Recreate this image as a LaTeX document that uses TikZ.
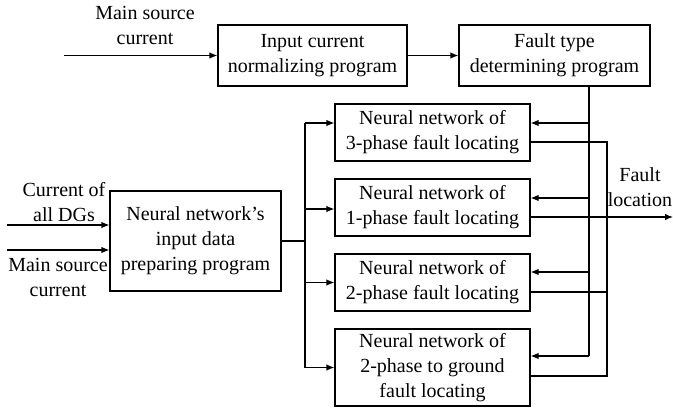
\documentclass[tikz,border=0pt]{standalone}
\usepackage{fontspec}
\setmainfont{Liberation Serif}
\usetikzlibrary{arrows.meta,calc}
\begin{document}
\begin{tikzpicture}[x=1pt,y=-1pt,
  box/.style={draw,line width=1.2pt,align=center,inner sep=0pt,
    font=\fontsize{20}{25}\selectfont},
  lbl/.style={align=center,inner sep=0pt,font=\fontsize{20}{25}\selectfont},
  wire/.style={line width=1.2pt},
  arr/.style={wire,-{Latex[length=8pt,width=6.5pt]}}]
\useasboundingbox (0,0) rectangle (673,410);

% top row
\node[box,minimum width=189pt,minimum height=61pt] (norm) at (312.5,55.5)
  {Input current\\normalizing program};
\node[box,minimum width=191pt,minimum height=61pt] (ft) at (554.5,55.5)
  {Fault type\\determining program};
\node[lbl] (msrc1) at (145,25.5) {Main source\\current};
\coordinate (msrc1in) at (64,55.5);

% data preparation
\node[box,minimum width=171pt,minimum height=100pt] (prep) at (195.5,241)
  {Neural network's\\input data\\preparing program};
\node[lbl] (dglbl) at (64,202) {Current of\\all DGs};
\node[lbl] (msrc2) at (58,277) {Main source\\current};
\coordinate (dgin) at (7,225);
\coordinate (msin) at (7,250);

% neural networks
\node[box,minimum width=195pt,minimum height=57pt] (nn3) at (432.5,132.5)
  {Neural network of\\3-phase fault locating};
\node[box,minimum width=195pt,minimum height=57pt] (nn1) at (432.5,207.5)
  {Neural network of\\1-phase fault locating};
\node[box,minimum width=195pt,minimum height=57pt] (nn2) at (432.5,282.5)
  {Neural network of\\2-phase fault locating};
\node[box,minimum width=195pt,minimum height=77pt] (nn2g) at (432.5,367.5)
  {Neural network of\\2-phase to ground\\fault locating};

\node[lbl] (floc) at (640,187) {Fault\\location};

% bus positions
\coordinate (lbus) at (305,0);
\coordinate (fbus) at (589,0);
\coordinate (obus) at (607,0);
\coordinate (fout) at (673,0);

% input connection points on the left
\coordinate (l3) at ([yshift=9.5pt]nn3.west);
\coordinate (l1) at ([yshift=-1.5pt]nn1.west);
\coordinate (l2) at (nn2.west);
\coordinate (l2g) at (nn2g.west);
% fault type inputs on the right
\coordinate (r3) at ([yshift=9.5pt]nn3.east);
\coordinate (r1) at ([yshift=9.5pt]nn1.east);
\coordinate (r2) at ([yshift=10.5pt]nn2.east);
\coordinate (r2g) at ([yshift=11.5pt]nn2g.east);
% outputs on the right
\coordinate (o3) at ([yshift=-9.5pt]nn3.east);
\coordinate (o1) at ([yshift=-9.5pt]nn1.east);
\coordinate (o2) at ([yshift=-9.5pt]nn2.east);
\coordinate (o2g) at ([yshift=-8.5pt]nn2g.east);

% top row connectors
\draw[arr] (msrc1in) -- (norm.west);
\draw[arr] (norm.east) -- (ft.west);

% inputs to data preparation
\draw[arr] (dgin) -- (dgin -| prep.west);
\draw[arr] (msin) -- (msin -| prep.west);

% distribution to the neural networks
\draw[wire] (prep.east) -- (lbus |- prep.east);
\draw[wire] (lbus |- l3) -- (lbus |- l2g);
\foreach \p in {l3,l1,l2,l2g}
  \draw[arr] (lbus |- \p) -- (\p);

% fault type selection
\draw[wire] (fbus |- ft.south) -- (fbus |- r2g);
\foreach \p in {r3,r1,r2,r2g}
  \draw[arr] (fbus |- \p) -- (\p);

% outputs
\draw[wire] (o3) -- (obus |- o3) -- (obus |- o2g) -- (o2g);
\draw[wire] (o2) -- (obus |- o2);
\draw[arr] (o1) -- (fout |- o1);
\end{tikzpicture}
\end{document}
